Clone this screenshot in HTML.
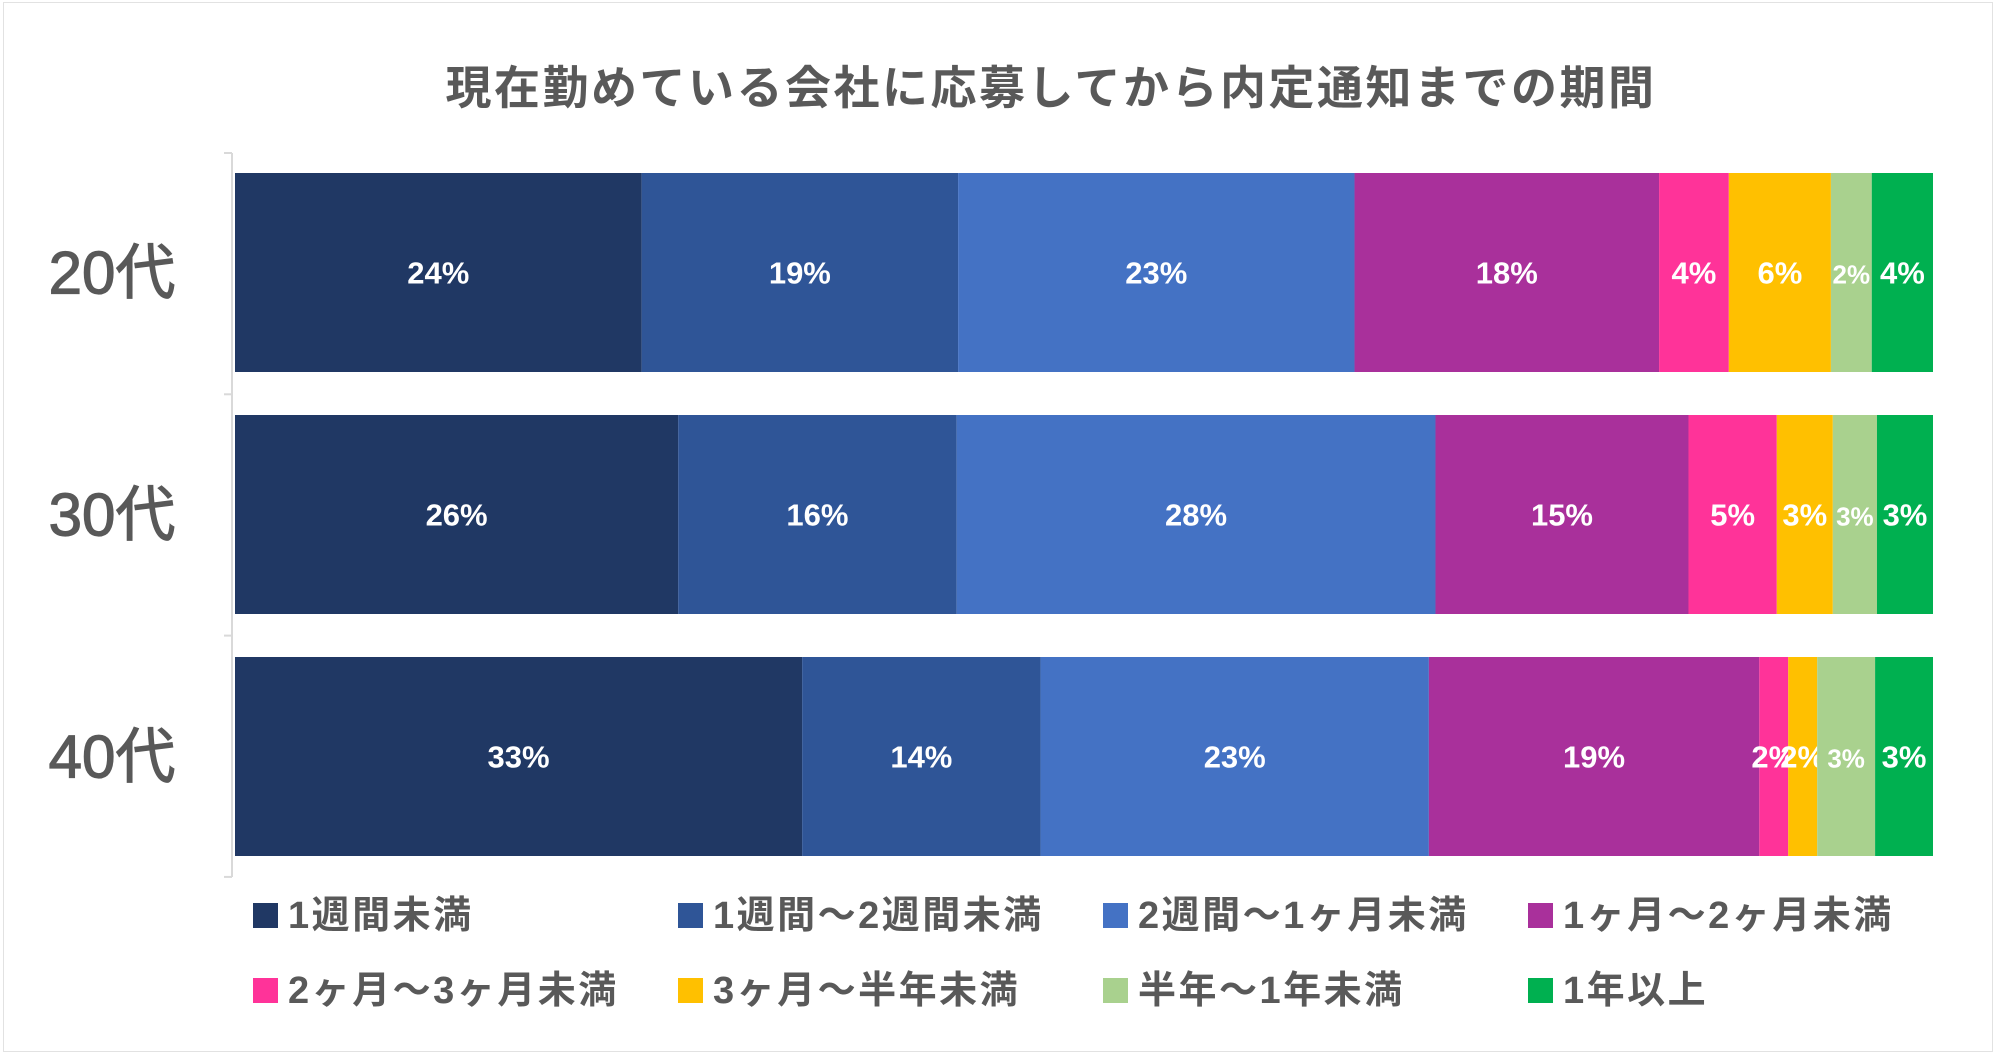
<!DOCTYPE html>
<html><head><meta charset="utf-8"><style>
body{margin:0;background:#fff;}
#wrap{position:relative;width:1999px;height:1056px;overflow:hidden;font-family:"Liberation Sans","Noto Sans CJK JP",sans-serif;}
#frame{position:absolute;left:3px;top:2px;width:1990px;height:1050px;border:1px solid #e2e2e2;box-sizing:border-box;}
</style></head><body>
<div id="wrap">
<div id="frame"></div>
<svg id="chart" width="1999" height="1056" style="position:absolute;left:0;top:0">
<text x="1051" y="104" text-anchor="middle" font-size="46" font-weight="bold" letter-spacing="2.5" fill="#595959" font-family="Liberation Sans, Noto Sans CJK JP, sans-serif">現在勤めている会社に応募してから内定通知までの期間</text>
</svg>
</div>
<script>
const categories=["20代","30代","40代"];
const seriesNames=["1週間未満","1週間～2週間未満","2週間～1ヶ月未満","1ヶ月～2ヶ月未満","2ヶ月～3ヶ月未満","3ヶ月～半年未満","半年～1年未満","1年以上"];
const s1=[23.9,26.1,33.3];
const s2=[18.6,16.4,14.0];
const s3=[23.3,28.2,22.8];
const s4=[17.9,14.9,19.4];
const s5=[4.1,5.2,1.7];
const s6=[6.0,3.3,1.7];
const s7=[2.4,2.6,3.4];
const s8=[3.6,3.3,3.4];
const series=[s1,s2,s3,s4,s5,s6,s7,s8];
const colors=["#203864","#2F5597","#4472C4","#A9309B","#FF3399","#FFC000","#A9D18E","#00B050"];
const NS="http://www.w3.org/2000/svg";
const svg=document.getElementById('chart');
const x0=235,x1=1933,rowTop=173,rowStep=242,barH=199;
function mk(t,a){const e=document.createElementNS(NS,t);for(const k in a)e.setAttribute(k,a[k]);svg.appendChild(e);return e;}
categories.forEach((c,i)=>{
  let tot=0;series.forEach(s=>tot+=s[i]);
  const xs=v=>x0+(x1-x0)*v/tot;
  let acc=0;const y=rowTop+i*rowStep;
  series.forEach((s,j)=>{
    const v=s[i];
    const r=mk('rect',{x:xs(acc),y:y,width:xs(acc+v)-xs(acc),height:barH,fill:colors[j]});
    
    
    const t=mk('text',{x:(xs(acc)+xs(acc+v))/2,y:y+barH/2+11,'text-anchor':'middle','font-size':j==6?26:31,'font-weight':'bold',fill:'#fff'});
    t.textContent=Math.round(v)+'%';
    
    
    acc+=v;
  });
  const ct=mk('text',{x:112,y:y+barH/2+21,'text-anchor':'middle','font-size':60,fill:'#595959',stroke:'#595959','stroke-width':1.2});
  ct.textContent=c;
  
  
});
const ax=mk('line',{x1:232,y1:153,x2:232,y2:877,stroke:'#d9d9d9','stroke-width':2});


for(let k=0;k<=3;k++){
  const ty=153+k*241.3;
  const tk=mk('line',{x1:224,y1:ty,x2:232,y2:ty,stroke:'#d9d9d9','stroke-width':2});
  
  
}
const lx=[253,678,1103,1528],ly=[903,978];
seriesNames.forEach((n,j)=>{
  const cx=lx[j%4],cy=ly[Math.floor(j/4)];
  const sq=mk('rect',{x:cx,y:cy,width:25,height:25,fill:colors[j]});
  
  
  const t=mk('text',{x:cx+35,y:cy+25,'font-size':38,'font-weight':'bold','letter-spacing':2.5,fill:'#595959'});
  t.textContent=n;
  
  
});
</script>
</body></html>
